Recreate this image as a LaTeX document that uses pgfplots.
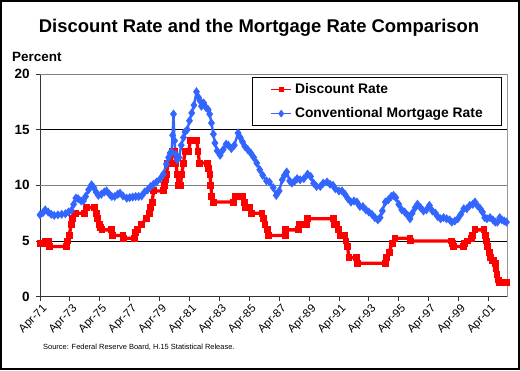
\documentclass[border=0pt]{standalone}
\usepackage{pgfplots}
\pgfplotsset{compat=1.18}
\usepackage{fontspec}
\setmainfont{Liberation Sans}
\definecolor{mred}{RGB}{255,0,0}
\definecolor{mblue}{RGB}{51,102,255}
\begin{document}
\begin{tikzpicture}[x=1bp,y=1bp]
\useasboundingbox (0,0) rectangle (520,370);
\draw[black, line width=2bp] (1,1) rectangle (519,369);
\node[anchor=base, inner sep=0, font=\bfseries\fontsize{18.5}{20}\selectfont] at (259,337.7) {Discount Rate and the Mortgage Rate Comparison};
\node[anchor=base west, inner sep=0, font=\bfseries\fontsize{13.5}{15}\selectfont] at (12,308.3) {Percent};
\begin{axis}[
  at={(40bp,73.3bp)}, anchor=south west,
  scale only axis, width=467bp, height=222.7bp,
  xmin=1971.25, xmax=2002.49, ymin=0, ymax=20,
  axis x line*=bottom, axis y line*=left,
  axis line style={-, black!80, line width=0.9bp},
  tick align=outside, major tick length=4bp,
  tick style={black!80, line width=0.8bp},
  /pgf/number format/assume math mode=true,
  xtick={1971.25,1973.25,1975.25,1977.25,1979.25,1981.25,1983.25,1985.25,1987.25,1989.25,1991.25,1993.25,1995.25,1997.25,1999.25,2001.25},
  xticklabels={Apr-71,Apr-73,Apr-75,Apr-77,Apr-79,Apr-81,Apr-83,Apr-85,Apr-87,Apr-89,Apr-91,Apr-93,Apr-95,Apr-97,Apr-99,Apr-01},
  xticklabel style={rotate=45, anchor=north east, inner sep=0.5bp, yshift=-2.5bp, font=\fontsize{11.5}{11.5}\selectfont},
  ytick={0,5,15},
  extra y ticks={10,20},
  extra y tick style={major grid style={gray, line width=0.8bp}},
  yticklabel style={xshift=-3bp, font=\bfseries\fontsize{13.5}{14}\selectfont},
  ymajorgrids, major grid style={black, line width=0.8bp},
  extra x ticks={2002.49}, extra x tick labels={},
  extra x tick style={xmajorgrids=true, major tick length=0pt, major grid style={gray!80, line width=0.8bp}},
  legend style={at={(0.454,0.9866)}, anchor=north west, draw=black, line width=0.8bp,
    inner xsep=18bp, inner ysep=4.5bp, row sep=8.5bp, column sep=2bp,
    font=\bfseries\fontsize{13.9}{15}\selectfont,
    nodes={inner sep=1bp, text height=10.5bp, text depth=3bp}},
  legend cell align=left,
  legend image code/.code={\draw[#1, line width=1.6bp, mark repeat=2, mark phase=2] plot coordinates {(0bp,0bp) (10bp,0bp) (20bp,0bp)};},
]
\addplot[mred, line width=3.3bp, mark=square*, mark size=1.8bp, line join=miter] coordinates {
(1971.25,4.75)(1971.5,4.75)(1971.6,5)(1971.8,5)(1971.9,4.5)(1973.0,4.5)(1973.1,5)(1973.2,5.5)(1973.35,6.5)(1973.45,7)(1973.6,7.5)(1974.25,7.5)(1974.35,8)(1974.9,8)(1975.0,7.5)(1975.1,7.0)(1975.2,6.5)(1975.3,6.25)(1975.4,6)(1976.05,6)(1976.1,5.5)(1976.8,5.5)(1976.85,5.25)(1977.6,5.25)(1977.65,5.75)(1977.8,6)(1978.05,6.5)(1978.35,7)(1978.55,7.5)(1978.65,8)(1978.75,8.5)(1978.85,9.5)(1979.5,9.5)(1979.58,10)(1979.67,10.5)(1979.72,11)(1979.8,12)(1980.0,12)(1980.1,13)(1980.25,13)(1980.35,12)(1980.42,11)(1980.5,10)(1980.65,10)(1980.72,11)(1980.85,12)(1980.95,13)(1981.2,13)(1981.3,14)(1981.75,14)(1981.82,13)(1981.92,12)(1982.45,12)(1982.55,11.5)(1982.62,11)(1982.68,10)(1982.75,9)(1982.85,8.5)(1984.2,8.5)(1984.3,9)(1984.8,9)(1984.9,8.5)(1985.0,8)(1985.3,8)(1985.4,7.5)(1986.1,7.5)(1986.2,7)(1986.3,6.5)(1986.45,6)(1986.55,5.5)(1987.65,5.5)(1987.7,6)(1988.55,6)(1988.6,6.5)(1989.05,6.5)(1989.12,7)(1990.9,7)(1990.95,6.5)(1991.1,6.5)(1991.2,6)(1991.35,5.5)(1991.65,5.5)(1991.72,5)(1991.82,4.5)(1991.92,3.5)(1992.4,3.5)(1992.5,3)(1994.35,3)(1994.45,3.5)(1994.6,4)(1994.8,4.75)(1995.0,5.25)(1996.0,5.25)(1996.05,5)(1998.8,5)(1998.85,4.75)(1998.9,4.5)(1999.55,4.5)(1999.65,4.75)(1999.85,5)(2000.1,5.25)(2000.2,5.5)(2000.35,6)(2000.95,6)(2001.05,5.5)(2001.12,5)(2001.2,4.5)(2001.3,4)(2001.4,3.5)(2001.5,3.25)(2001.62,3.25)(2001.7,3)(2001.75,2.5)(2001.82,2)(2001.9,1.5)(2001.98,1.25)(2002.45,1.25)
};
\addlegendentry{Discount Rate}
\addplot[mblue, line width=2.4bp, mark=diamond*, mark size=2.6bp] coordinates {
(1971.25,7.35)(1971.45,7.55)(1971.6,7.8)(1971.8,7.6)(1972.0,7.4)(1972.2,7.3)(1972.45,7.35)(1972.7,7.4)(1972.95,7.45)(1973.15,7.6)(1973.35,7.75)(1973.5,8.3)(1973.65,8.85)(1973.8,8.8)(1974.0,8.6)(1974.15,8.6)(1974.3,9.0)(1974.5,9.6)(1974.7,10.05)(1974.85,9.8)(1975.0,9.4)(1975.15,9.1)(1975.35,9.2)(1975.55,9.4)(1975.7,9.5)(1975.9,9.2)(1976.05,9.0)(1976.25,9.0)(1976.45,9.2)(1976.6,9.3)(1976.8,9.05)(1977.05,8.85)(1977.25,8.9)(1977.45,8.95)(1977.65,9.0)(1977.85,9.0)(1978.05,9.05)(1978.25,9.4)(1978.45,9.6)(1978.65,9.9)(1978.85,10.1)(1979.05,10.3)(1979.3,10.6)(1979.5,11.0)(1979.7,11.9)(1979.85,12.5)(1979.95,12.9)(1980.05,13.0)(1980.12,14.5)(1980.18,16.4)(1980.25,14.0)(1980.32,12.8)(1980.42,12.3)(1980.55,12.5)(1980.7,13.6)(1980.85,14.3)(1980.95,14.8)(1981.1,15.0)(1981.25,15.8)(1981.4,16.5)(1981.55,17.2)(1981.72,18.4)(1981.85,17.9)(1981.95,17.6)(1982.05,17.1)(1982.2,17.4)(1982.35,17.0)(1982.5,16.8)(1982.6,16.4)(1982.72,15.6)(1982.85,14.6)(1982.95,13.8)(1983.1,13.1)(1983.3,12.7)(1983.5,13.2)(1983.7,13.7)(1983.85,13.6)(1984.05,13.3)(1984.25,13.6)(1984.5,14.7)(1984.65,14.3)(1984.8,13.9)(1984.95,13.5)(1985.15,13.2)(1985.35,12.9)(1985.55,12.5)(1985.75,12.0)(1985.95,11.4)(1986.15,10.9)(1986.4,10.4)(1986.6,10.3)(1986.85,9.8)(1987.05,9.1)(1987.25,9.5)(1987.45,10.5)(1987.6,10.9)(1987.75,11.2)(1987.95,10.4)(1988.1,10.2)(1988.3,10.4)(1988.45,10.6)(1988.65,10.5)(1988.9,10.6)(1989.15,11.0)(1989.35,10.8)(1989.55,10.2)(1989.75,9.9)(1990.0,9.9)(1990.2,10.2)(1990.45,10.3)(1990.65,10.1)(1990.85,10.0)(1991.0,9.7)(1991.25,9.5)(1991.45,9.5)(1991.65,9.2)(1991.85,8.8)(1992.05,8.5)(1992.25,8.6)(1992.45,8.5)(1992.65,8.1)(1992.85,8.1)(1993.05,7.8)(1993.25,7.6)(1993.45,7.4)(1993.65,7.1)(1993.85,6.9)(1994.0,7.1)(1994.15,7.7)(1994.35,8.5)(1994.55,8.7)(1994.75,9.0)(1994.9,9.1)(1995.05,8.9)(1995.25,8.3)(1995.45,7.8)(1995.65,7.6)(1995.85,7.3)(1996.0,7.0)(1996.15,7.5)(1996.35,8.0)(1996.5,8.3)(1996.7,8.0)(1996.9,7.7)(1997.1,7.8)(1997.3,8.2)(1997.5,7.7)(1997.7,7.5)(1997.85,7.2)(1998.05,7.0)(1998.25,7.1)(1998.45,7.0)(1998.65,6.9)(1998.8,6.7)(1999.0,6.8)(1999.2,7.0)(1999.4,7.4)(1999.6,7.9)(1999.8,7.9)(2000.0,8.2)(2000.2,8.3)(2000.35,8.5)(2000.5,8.2)(2000.7,7.9)(2000.85,7.6)(2001.0,7.1)(2001.15,7.0)(2001.35,7.1)(2001.55,6.9)(2001.7,6.7)(2001.85,6.7)(2002.0,7.1)(2002.15,6.9)(2002.3,6.8)(2002.45,6.7)
};
\addlegendentry{Conventional Mortgage Rate}
\end{axis}
\node[anchor=base west, inner sep=0, font=\fontsize{7.5}{8}\selectfont] at (43,21) {Source: Federal Reserve Board, H.15 Statistical Release.};
\end{tikzpicture}
\end{document}
